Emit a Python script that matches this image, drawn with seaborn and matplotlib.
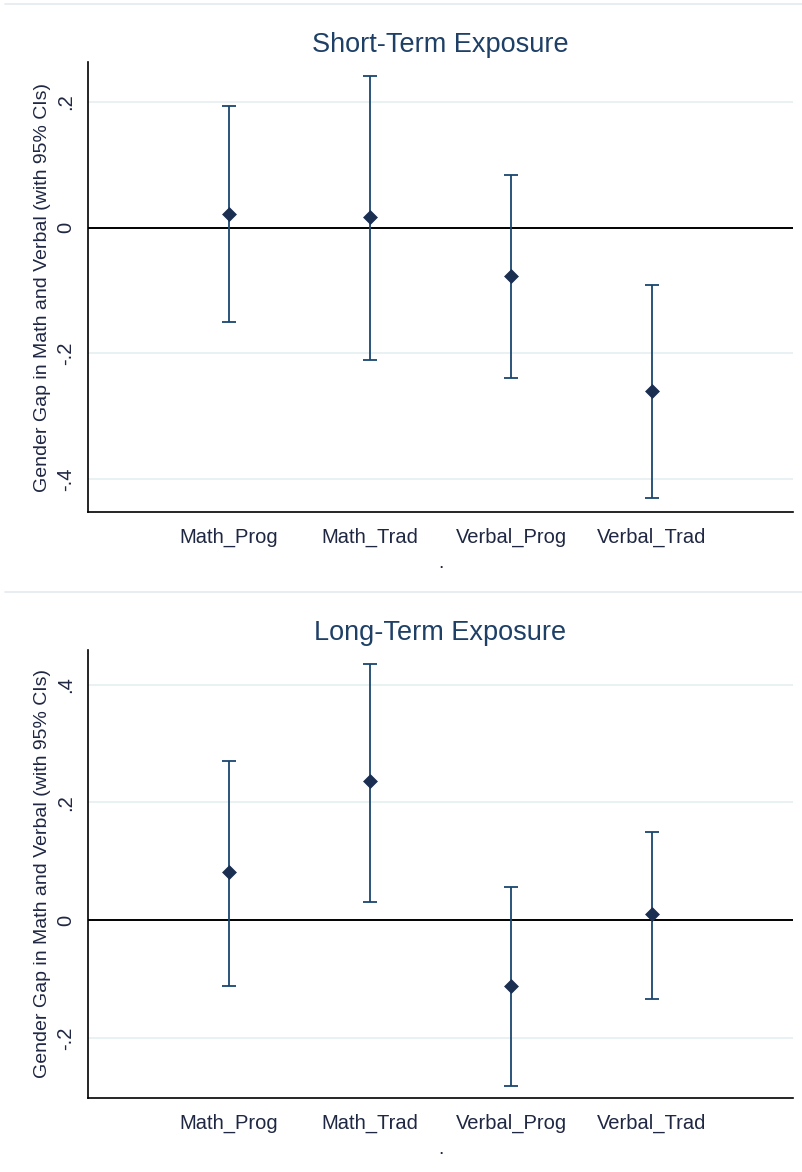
import numpy as np
import pandas as pd
import matplotlib
matplotlib.use("Agg")
import matplotlib.pyplot as plt
import seaborn as sns
from matplotlib.lines import Line2D

sns.set_style("white")
plt.rcParams['font.family'] = ['Liberation Sans', 'DejaVu Sans']

categories = ["Math_Prog", "Math_Trad", "Verbal_Prog", "Verbal_Trad"]

# short-term exposure: estimate and 95% CI
short_est = [0.022, 0.017, -0.077, -0.259]
short_lo = [-0.150, -0.210, -0.239, -0.430]
short_hi = [0.193, 0.241, 0.083, -0.092]

# long-term exposure
long_est = [0.082, 0.236, -0.111, 0.010]
long_lo = [-0.112, 0.031, -0.282, -0.133]
long_hi = [0.271, 0.436, 0.057, 0.149]

panels = [
    ("Short-Term Exposure", short_est, short_lo, short_hi, [0.2, 0, -0.2, -0.4], [".2", "0", "-.2", "-.4"], (-0.452, 0.263)),
    ("Long-Term Exposure", long_est, long_lo, long_hi, [0.4, 0.2, 0, -0.2], [".4", ".2", "0", "-.2"], (-0.302, 0.459)),
]

ci_col = "#1a476f"
pt_col = "#1b2f52"
txt_col = "#1f2742"
grid_col = "#e9f1f3"

fig = plt.figure(figsize=(8.03, 11.72), dpi=100)
W, H = 803, 1172
boxes = [(88, 62, 793, 512), (88, 650, 793, 1098)]

for (title, est, lo, hi, yt, ytl, ylim), (x0, y0, x1, y1) in zip(panels, boxes):
    ax = fig.add_axes([x0 / W, 1 - y1 / H, (x1 - x0) / W, (y1 - y0) / H])
    df = pd.DataFrame({"cat": categories, "est": est, "lo": lo, "hi": hi})
    df["pos"] = np.arange(1, len(df) + 1)

    for v in yt:
        ax.axhline(v, color=grid_col, lw=1.4, zorder=0)
    ax.axhline(0, color="black", lw=1.4, zorder=1)

    ax.errorbar(df["pos"], df["est"], yerr=[df["est"] - df["lo"], df["hi"] - df["est"]],
                fmt="none", ecolor=ci_col, elinewidth=1.3, capsize=5, capthick=1.3, zorder=2)
    sns.scatterplot(data=df, x="pos", y="est", marker="D", s=50, color=pt_col,
                    edgecolor=pt_col, linewidth=0.5, ax=ax, zorder=3)

    ax.set_xlim(0, 5)
    ax.set_ylim(*ylim)
    ax.set_xticks(df["pos"])
    ax.set_xticklabels(df["cat"], fontsize=14.5, color=txt_col)
    ax.set_yticks(yt)
    ax.set_yticklabels(ytl, fontsize=14.5, color=txt_col, rotation=90, va="center")
    ax.tick_params(axis="both", length=6, width=1.1, color="black", pad=5)
    ax.tick_params(axis="y", pad=3)

    for s in ["top", "right"]:
        ax.spines[s].set_visible(False)
    for s in ["left", "bottom"]:
        ax.spines[s].set_color("black")
        ax.spines[s].set_linewidth(1.2)

    ax.set_xlabel(".", fontsize=14, color=txt_col, labelpad=6)
    ax.set_ylabel("Gender Gap in Math and Verbal (with 95% CIs)", fontsize=14, color=txt_col)
    ax.yaxis.set_label_coords(-0.052, 0.5)
    ax.set_title(title, fontsize=19.5, color="#1e3f66", pad=7)

# light separators between the graph regions
for yy in [4, 592]:
    fig.add_artist(Line2D([5 / W, 1], [1 - yy / H, 1 - yy / H], color="#e3eaee", lw=1.2))

fig.savefig("out.png", dpi=100, facecolor="white")
